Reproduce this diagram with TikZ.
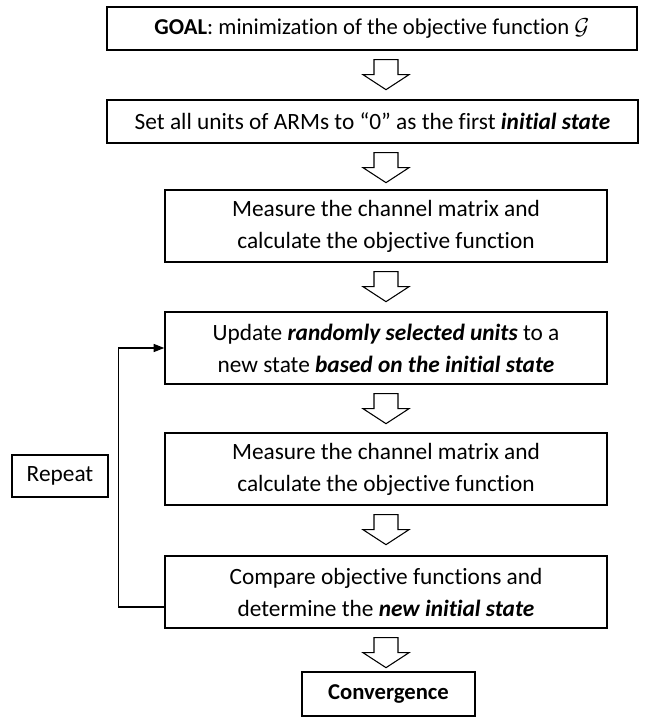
\documentclass[tikz,border=0pt]{standalone}
\usepackage{fontspec}
\setmainfont{Carlito}[Ligatures=NoCommon]
\usetikzlibrary{arrows.meta,calc}

\tikzset{
  x=0.75pt, y=-0.75pt,
  box/.style={draw, line width=1pt, align=center, inner sep=0pt,
    font=\fontsize{17.5}{24}\selectfont},
  widebox/.style={box, minimum width=531*0.75pt, minimum height=43*0.75pt},
  stepbox/.style={box, minimum width=442*0.75pt, minimum height=72*0.75pt},
  blockarrow/.style={draw, line width=0.8pt, fill=white, line join=miter},
  feedback/.style={draw, line width=1pt, -{Triangle[length=8pt,width=6pt]}},
}

% hollow down arrow hanging below a point
\newcommand{\downarrowat}[1]{%
  \path[blockarrow] ($#1+(-12,9)$) -- ++(0,15) -- ++(-11,0) -- ++(23,15)
    -- ++(23,-15) -- ++(-11,0) -- ++(0,-15) -- cycle;}

\begin{document}
\begin{tikzpicture}
\useasboundingbox (0,0) rectangle (652,717);

\node[widebox, minimum width=530*0.75pt, font=\fontsize{17}{20}\selectfont] (b1) at (372,28.5)
  {\textbf{GOAL}: minimization of the objective function $\mathcal{G}$};
\node[widebox] (b2) at (372.5,121.5)
  {Set all units of ARMs to “0” as the first \textbf{\textit{initial state}}};
\node[stepbox] (b3) at (386,226)
  {Measure the channel matrix and\\calculate the objective function};
\node[stepbox] (b4) at (386,348)
  {Update \textbf{\textit{randomly selected units}} to a\\new state \textbf{\textit{based on the initial state}}};
\node[stepbox] (b5) at (386,469)
  {Measure the channel matrix and\\calculate the objective function};
\node[stepbox] (b6) at (386,592)
  {Compare objective functions and\\determine the \textbf{\textit{new initial state}}};
\node[box, minimum width=173*0.75pt, minimum height=44*0.75pt,
  font=\fontsize{17}{20}\selectfont] (b7) at (388.5,694)
  {\textbf{Convergence}};
\node[box, minimum width=96*0.75pt, minimum height=42*0.75pt] (rep) at (60,476)
  {Repeat};

% hollow arrows between the steps
\downarrowat{(b1.south -| b3.center)}
\downarrowat{(b2.south -| b3.center)}
\downarrowat{(b3.south)}
\downarrowat{(b4.south)}
\downarrowat{(b5.south)}
\downarrowat{(b6.south)}

% loop back to the update step
\coordinate (fbout) at ($(b6.west)+(0,15)$);
\draw[feedback] (fbout) -- ++(-46,0) |- (b4.west);
\end{tikzpicture}
\end{document}
